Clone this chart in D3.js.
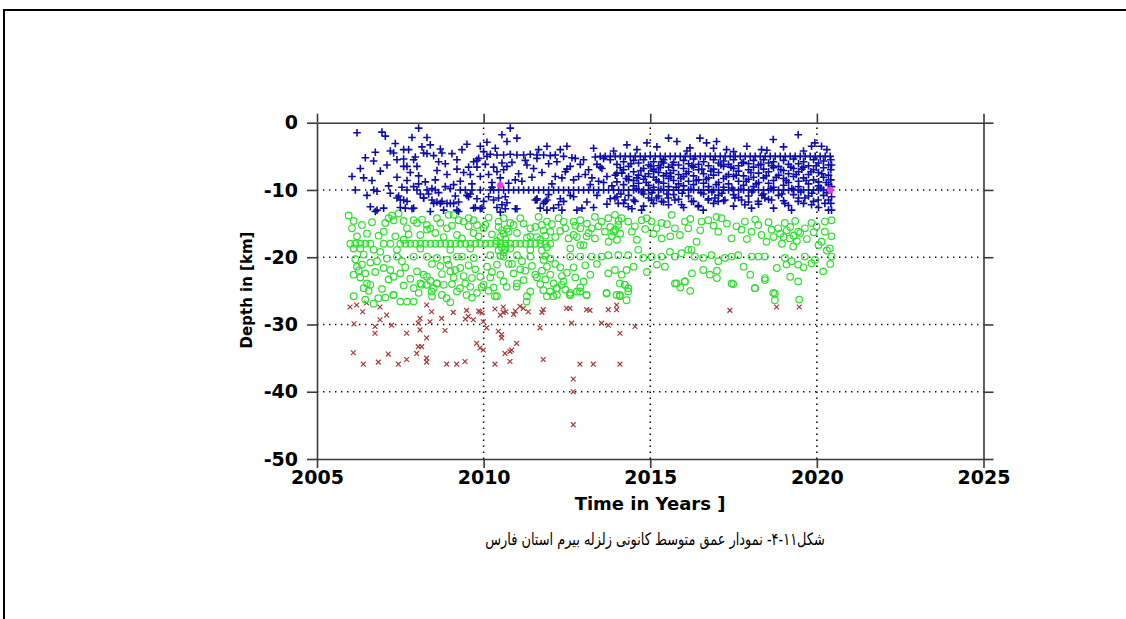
<!DOCTYPE html>
<html><head><meta charset="utf-8">
<script src="https://cdn.jsdelivr.net/npm/d3@7"></script>
<style>html,body{margin:0;padding:0;background:#fff;}svg{display:block;}</style>
</head><body>
<svg id="chart" width="1126" height="619"></svg>
<script>
// ---- data: [year, depth km] ----
const xTicks = [2005, 2010, 2015, 2020, 2025];
const yTicks = [-50, -40, -30, -20, -10, 0];
const xTitle = "Time in Years ]";
const yTitle = "Depth in [km]";
const caption = "شکل۱۱-۴- نمودار عمق متوسط کانونی زلزله بیرم استان فارس";

const blueEarly = [[2006.2,-1.5],[2006.95,-1.4],[2007.05,-2.0],[2008.05,-0.8],[2007.85,-2.2],[2008.3,-2.2],[2008.4,-3.3],[2006.75,-4.4],[2007.2,-4.2],[2007.3,-4.5],[2007.6,-4.0],[2007.75,-4.0],[2008.2,-4.5],[2008.3,-4.6],[2008.5,-4.9],[2008.75,-4.5],[2007.95,-5.1],[2006.7,-5.7],[2007.4,-5.5],[2007.6,-5.4],[2007.9,-5.5],[2008.65,-5.8],[2008.85,-6.1],[2009.2,-5.5],[2009.7,-5.8],[2009.8,-5.6],[2009.9,-3.5],[2010.0,-4.3],[2010.2,-4.7],[2010.1,-5.0],[2007.6,-6.5],[2007.7,-6.5],[2008.0,-6.5],[2009.2,-6.9],[2009.55,-6.6],[2009.8,-6.6],[2006.05,-8.0],[2006.4,-8.2],[2006.65,-8.6],[2007.4,-8.1],[2007.7,-8.6],[2008.05,-7.9],[2008.55,-8.5],[2008.05,-9.1],[2009.3,-8.7],[2009.6,-7.7],[2009.9,-8.0],[2010.15,-7.7],[2006.15,-10.0],[2006.7,-10.0],[2006.8,-10.2],[2007.7,-10.0],[2008.0,-10.0],[2008.3,-10.0],[2008.45,-9.8],[2008.55,-10.0],[2008.85,-9.5],[2009.0,-9.8],[2009.3,-10.0],[2009.45,-10.0],[2009.65,-10.0],[2009.9,-10.0],[2010.2,-10.0],[2007.45,-10.9],[2007.6,-11.5],[2007.7,-11.7],[2008.1,-10.6],[2008.2,-11.2],[2008.45,-11.5],[2008.6,-11.8],[2008.75,-11.7],[2009.0,-12.0],[2009.25,-11.8],[2006.6,-12.5],[2006.75,-13.2],[2007.0,-12.7],[2007.5,-12.6],[2007.9,-12.7],[2008.4,-13.2],[2008.8,-13.0],[2009.25,-13.2],[2009.75,-12.6],[2009.9,-12.8],[2010.4,-12.6],[2010.65,-12.8],[2011.0,-12.8],[2010.5,-13.3],[2010.7,-11.9],[2010.0,-11.7],[2010.3,-11.5],[2011.6,-11.5],[2011.8,-12.0],[2009.5,-10.8],[2009.6,-10.6],[2008.35,-10.6],[2006.8,-13.0],[2007.65,-12.7],[2007.85,-12.8],[2008.5,-12.0],[2008.7,-12.0],[2008.9,-12.0],[2009.1,-12.0],[2009.2,-13.0],[2009.55,-11.0],[2009.7,-12.7],[2009.95,-12.7],[2010.55,-12.2],[2010.95,-12.8],[2010.45,-11.2],[2010.65,-11.0],[2007.4,-11.2],[2007.5,-11.5],[2008.2,-11.2],
[2006.3,-6.8],[2006.45,-5.2],[2006.9,-7.2],[2007.1,-6.3],[2007.15,-9.4],[2007.35,-3.1],[2007.55,-9.6],[2007.8,-7.4],[2008.15,-3.6],[2008.25,-8.8],[2008.6,-7.1],[2008.7,-3.9],[2008.9,-7.7],[2009.05,-4.6],[2009.1,-9.2],[2009.35,-4.0],[2009.4,-7.4],[2009.5,-3.2],[2009.65,-9.1],[2009.85,-5.3],[2010.05,-6.2],[2010.1,-2.9],[2010.25,-8.9],[2010.3,-6.6],[2010.35,-3.8],[2006.5,-10.8],[2007.2,-10.5],[2007.9,-9.5],[2008.65,-10.4],[2009.15,-10.9],[2009.8,-11.3],[2010.15,-11.0],[2010.25,-9.6]];

const blueMid = [[2010.8,-0.8],[2010.55,-1.8],[2010.7,-2.8],[2011.0,-2.3],[2014.9,-3.0],[2015.55,-2.3],[2015.8,-2.8],[2011.65,-4.0],[2011.9,-3.5],[2012.3,-4.0],[2012.5,-3.5],[2010.4,-4.8],[2010.6,-4.8],[2010.8,-4.7],[2011.0,-4.8],[2011.2,-4.8],[2011.4,-4.7],[2011.6,-4.8],[2011.8,-4.8],[2012.4,-5.0],[2012.65,-5.2],[2012.75,-5.3],[2013.0,-5.5],[2013.35,-5.1],[2013.6,-5.3],[2013.8,-5.5],[2011.6,-5.3],[2011.3,-6.3],[2010.55,-6.0],[2010.7,-6.5],[2012.6,-6.5],[2012.5,-6.9],[2012.15,-8.0],[2012.35,-8.2],[2012.7,-8.5],[2013.25,-8.2],[2013.7,-8.0],[2013.95,-7.8],[2014.15,-7.5],[2014.35,-8.5],[2014.6,-8.2],[2014.85,-8.0],[2015.1,-7.2],[2015.3,-6.7],[2015.6,-7.5],[2010.95,-8.5],[2011.15,-8.7],[2011.6,-11.3],[2011.9,-11.5],[2012.3,-11.3],[2012.7,-11.0],[2013.4,-10.8],[2013.8,-11.3],[2011.55,-11.5],[2011.7,-12.7],[2011.85,-11.7],[2011.9,-13.0],[2012.1,-12.7],[2012.25,-12.2],[2012.35,-13.0],[2012.4,-11.7],[2012.8,-13.0],[2012.95,-12.7],[2013.3,-3.8],[2013.9,-4.2],[2014.3,-3.3],[2014.6,-4.0],[2015.2,-3.6],[2012.9,-6.2],[2013.15,-7.0],[2013.5,-6.6],
[2010.4,-7.3],[2010.5,-8.2],[2010.6,-7.0],[2010.75,-9.0],[2010.85,-5.9],[2011.05,-7.6],[2011.25,-5.6],[2011.45,-8.1],[2011.5,-6.8],[2011.75,-7.4],[2011.95,-6.1],[2012.05,-9.1],[2012.2,-5.8],[2012.45,-7.3],[2012.85,-8.0],[2013.05,-7.7],[2013.2,-9.2],[2013.4,-6.2],[2013.45,-8.7],[2012.0,-4.9],[2012.15,-4.8],[2011.95,-10.7],[2012.6,-10.8],[2013.1,-11.8],[2013.3,-12.6]];

const blueLate = [[2016.49,-2.3],[2016.69,-3.0],[2016.99,-2.8],[2018.69,-2.5],[2019.44,-1.8],[2019.94,-3.0],[2020.14,-3.5],[2016.19,-3.75],[2017.29,-4.0],[2018.34,-4.0],[2019.84,-3.5],[2016.1,-4.2],[2016.9,-3.8],[2017.5,-4.3],[2017.9,-3.5],[2018.5,-4.1],[2019.0,-3.6],[2019.6,-4.2],[2020.3,-4.0],
[2014.0,-6.2],[2014.0,-7.5],[2014.0,-8.8],[2014.0,-11.0],[2014.2,-5.8],[2014.2,-7.0],[2014.2,-9.2],[2014.2,-12.0],[2014.35,-6.5],[2014.35,-8.0],[2014.35,-10.8],[2014.5,-5.6],[2014.5,-7.3],[2014.5,-8.6],[2014.5,-9.4],[2014.5,-11.5],[2014.65,-6.0],[2014.65,-7.8],[2014.65,-9.0],[2014.8,-5.5],[2014.8,-6.8],[2014.8,-8.4],[2014.8,-10.6],[2014.8,-12.4],[2014.95,-6.3],[2014.95,-7.6],[2014.95,-9.3],[2014.95,-11.2],[2015.1,-5.8],[2015.1,-6.9],[2015.1,-8.1],[2015.1,-9.6],[2015.1,-12.0],[2015.25,-6.4],[2015.25,-7.4],[2015.25,-8.8],[2015.25,-10.9],[2015.4,-5.5],[2015.4,-6.0],[2015.4,-7.9],[2015.4,-9.0],[2015.4,-11.8],[2015.55,-6.6],[2015.55,-8.3],[2015.55,-9.5],[2015.55,-12.2],[2015.7,-5.9],[2015.7,-7.1],[2015.7,-8.6],[2015.7,-10.7],[2015.85,-6.3],[2015.85,-7.7],[2015.85,-9.1],[2015.85,-11.4],[2016.0,-5.6],[2016.0,-6.8],[2016.0,-8.0],[2016.0,-9.4],[2016.0,-12.6],[2016.15,-6.1],[2016.15,-7.3],[2016.15,-8.7],[2016.15,-10.9],[2016.3,-5.4],[2016.3,-6.6],[2016.3,-7.9],[2016.3,-9.2],[2016.3,-11.7],[2016.45,-6.2],[2016.45,-7.0],[2016.45,-8.5],[2016.45,-12.3],[2016.6,-5.8],[2016.6,-7.6],[2016.6,-9.0],[2016.6,-10.6],[2016.75,-6.4],[2016.75,-8.2],[2016.75,-9.5],[2016.75,-11.3],[2016.9,-5.5],[2016.9,-6.9],[2016.9,-7.8],[2016.9,-12.0],[2017.05,-6.0],[2017.05,-7.4],[2017.05,-8.9],[2017.05,-10.8],[2017.2,-5.7],[2017.2,-6.5],[2017.2,-8.3],[2017.2,-9.6],[2017.2,-11.6],[2017.35,-6.2],[2017.35,-7.7],[2017.35,-9.1],[2017.5,-5.5],[2017.5,-6.8],[2017.5,-8.0],[2017.5,-10.7],[2017.5,-12.4],[2017.65,-6.4],[2017.65,-7.2],[2017.65,-8.7],[2017.65,-11.1],[2017.8,-5.9],[2017.8,-7.9],[2017.8,-9.3],[2017.95,-6.1],[2017.95,-7.0],[2017.95,-8.4],[2017.95,-10.9],[2017.95,-11.8],[2018.1,-5.6],[2018.1,-6.6],[2018.1,-8.1],[2018.1,-9.5],[2018.25,-6.3],[2018.25,-7.5],[2018.25,-8.9],[2018.25,-12.1],[2018.4,-5.5],[2018.4,-6.9],[2018.4,-8.2],[2018.4,-10.6],[2018.55,-6.0],[2018.55,-7.3],[2018.55,-9.0],[2018.55,-11.4],[2018.7,-5.8],[2018.7,-6.7],[2018.7,-8.6],[2018.7,-9.6],[2018.7,-12.7],[2018.85,-6.5],[2018.85,-7.8],[2018.85,-10.8],[2019.0,-5.6],[2019.0,-7.1],[2019.0,-8.3],[2019.0,-9.3],[2019.0,-11.6],[2019.15,-6.2],[2019.15,-7.6],[2019.15,-8.9],[2019.15,-12.3],[2019.3,-5.4],[2019.3,-6.8],[2019.3,-8.0],[2019.3,-10.7],[2019.45,-6.1],[2019.45,-7.3],[2019.45,-8.7],[2019.45,-9.5],[2019.45,-11.2],[2019.6,-5.8],[2019.6,-6.6],[2019.6,-8.2],[2019.6,-12.0],[2019.75,-6.4],[2019.75,-7.7],[2019.75,-9.1],[2019.75,-10.9],[2019.9,-5.5],[2019.9,-7.0],[2019.9,-8.5],[2019.9,-11.7],[2020.05,-6.0],[2020.05,-7.4],[2020.05,-8.8],[2020.05,-9.4],[2020.05,-12.6],[2020.2,-5.7],[2020.2,-6.7],[2020.2,-8.1],[2020.2,-10.8],[2020.35,-6.3],[2020.35,-7.8],[2020.35,-9.2],[2020.35,-11.5],[2020.35,-13.0],[2020.42,-5.5],[2020.42,-7.0],[2020.42,-8.5],[2020.42,-12.0],
[2013.94,-11.2],[2014.04,-12.0],[2014.24,-11.5],[2014.34,-12.5],[2014.54,-11.7],[2014.74,-13.0],[2015.04,-11.5],[2015.19,-11.2],[2015.34,-11.7],[2015.54,-11.2],[2015.74,-11.5],[2015.94,-12.2],[2016.24,-11.7],[2016.44,-12.5],[2016.59,-13.0],[2016.74,-11.5],[2016.94,-11.2],[2017.04,-11.7],[2017.24,-11.5],[2017.54,-11.2],[2017.74,-11.5],[2017.84,-12.2],[2018.04,-12.7],[2018.24,-11.7],[2018.44,-11.2],[2018.64,-11.5],[2019.04,-12.0],[2019.24,-13.0],[2019.44,-11.7],[2019.64,-11.2],[2019.84,-12.2],[2020.04,-11.5],[2020.24,-12.0],[2020.44,-13.0],
[2013.55,-6.8],[2013.6,-8.9],[2013.7,-12.1],[2013.85,-9.4],[2014.1,-6.7],[2014.12,-10.6],[2014.28,-8.3],[2014.42,-6.1],[2014.45,-12.8],[2014.58,-9.8],[2014.72,-7.1],[2014.75,-10.3],[2014.88,-8.9],[2015.02,-6.5],[2015.05,-10.4],[2015.18,-8.5],[2015.32,-9.9],[2015.35,-5.8],[2015.48,-7.6],[2015.5,-10.6],[2015.62,-8.0],[2015.66,-6.3],[2015.78,-9.6],[2015.92,-8.3],[2015.96,-10.5],[2016.08,-7.6],[2016.22,-9.9],[2016.25,-6.4],[2016.38,-8.6],[2016.52,-10.4],[2016.55,-6.9],[2016.68,-8.4],[2016.82,-7.2],[2016.85,-10.3],[2016.98,-9.2],[2017.12,-6.3],[2017.15,-10.5],[2017.28,-8.0],[2017.42,-6.6],[2017.45,-9.7],[2017.58,-7.8],[2017.72,-9.9],[2017.75,-6.0],[2017.88,-8.7],[2018.02,-7.4],[2018.05,-10.3],[2018.18,-9.1],[2018.32,-6.2],[2018.35,-10.8],[2018.48,-7.9],[2018.62,-9.8],[2018.65,-6.4],[2018.78,-8.1],[2018.92,-7.0],[2018.95,-10.6],[2019.08,-8.6],[2019.22,-6.6],[2019.25,-9.8],[2019.38,-7.7],[2019.52,-10.3],[2019.55,-6.9],[2019.68,-8.6],[2019.82,-7.3],[2019.85,-10.5],[2019.98,-6.4],[2020.12,-9.7],[2020.15,-7.6],[2020.28,-8.9],[2020.3,-10.4],[2020.44,-6.3],[2020.44,-9.5],[2020.44,-11.0]];

const blueRow5 = [[2013.5,-5],[2013.65,-5],[2013.8,-5],[2013.95,-5],[2014.1,-5],[2014.25,-5],[2014.4,-5],[2014.55,-5],[2014.7,-5],[2014.85,-5],[2015.0,-5],[2015.15,-5],[2015.3,-5],[2015.45,-5],[2015.6,-5],[2015.75,-5],[2015.9,-5],[2016.05,-5],[2016.2,-5],[2016.35,-5],[2016.5,-5],[2016.65,-5],[2016.8,-5],[2016.95,-5],[2017.1,-5],[2017.25,-5],[2017.4,-5],[2017.55,-5],[2017.7,-5],[2017.85,-5],[2018.0,-5],[2018.15,-5],[2018.3,-5],[2018.45,-5],[2018.6,-5],[2018.75,-5],[2018.9,-5],[2019.05,-5],[2019.2,-5],[2019.35,-5],[2019.5,-5],[2019.65,-5],[2019.8,-5],[2019.95,-5],[2020.1,-5],[2020.25,-5],[2020.4,-5]];

const blueRow10 = [[2010.3,-10],[2010.45,-10],[2010.6,-10],[2010.75,-10],[2010.9,-10],[2011.05,-10],[2011.2,-10],[2011.35,-10],[2011.5,-10],[2011.65,-10],[2011.8,-10],[2011.95,-10],[2012.1,-10],[2012.25,-10],[2012.4,-10],[2012.55,-10],[2012.7,-10],[2012.85,-10],[2013.0,-10],[2013.15,-10],[2013.3,-10],[2013.45,-10],[2013.6,-10],[2013.75,-10],[2013.9,-10],[2014.05,-10],[2014.2,-10],[2014.35,-10],[2014.5,-10],[2014.65,-10],[2014.8,-10],[2014.95,-10],[2015.1,-10],[2015.25,-10],[2015.4,-10],[2015.55,-10],[2015.7,-10],[2015.85,-10],[2016.0,-10],[2016.15,-10],[2016.3,-10],[2016.45,-10],[2016.6,-10],[2016.75,-10],[2016.9,-10],[2017.05,-10],[2017.2,-10],[2017.35,-10],[2017.5,-10],[2017.65,-10],[2017.8,-10],[2017.95,-10],[2018.1,-10],[2018.25,-10],[2018.4,-10],[2018.55,-10],[2018.7,-10],[2018.85,-10],[2019.0,-10],[2019.15,-10],[2019.3,-10],[2019.45,-10],[2019.6,-10],[2019.75,-10],[2019.9,-10],[2020.05,-10],[2020.2,-10],[2020.35,-10]];

const greenEarly = [[2005.95,-13.8],[2007.15,-14.2],[2007.25,-13.8],[2007.45,-13.5],[2007.3,-14.5],[2006.05,-15.7],[2007.7,-15.7],[2007.9,-14.5],[2008.0,-14.9],[2008.3,-15.2],[2008.4,-15.7],[2008.7,-14.9],[2008.95,-13.7],[2009.1,-13.7],[2009.4,-14.7],[2009.55,-14.2],[2009.7,-14.5],[2009.8,-15.2],[2010.05,-15.2],[2010.45,-14.7],[2010.6,-14.2],[2010.8,-14.9],[2011.1,-14.2],[2011.4,-15.7],[2011.65,-14.0],[2011.9,-14.7],[2012.25,-14.2],[2012.4,-14.7],[2012.7,-14.7],[2010.45,-15.5],[2010.55,-16.0],[2010.6,-16.5],[2010.5,-17.0],[2010.65,-17.3],[2010.4,-17.6],[2010.55,-18.5],[2010.7,-15.8],[2010.45,-19.0],[2010.6,-19.3],[2010.5,-19.8],[2010.65,-18.8],[2011.75,-15.2],[2011.8,-16.0],[2011.85,-16.8],[2011.7,-17.4],[2011.9,-18.5],[2011.75,-19.0],[2011.85,-19.8],[2012.0,-20.2],[2006.1,-18.7],[2006.2,-16.9],[2007.35,-16.9],[2007.6,-17.4],[2007.0,-16.2],[2008.1,-16.7],[2008.3,-15.9],[2008.9,-15.7],[2009.2,-16.7],[2009.55,-15.4],[2009.7,-16.4],[2010.0,-15.7],[2011.0,-16.4],[2011.4,-16.9],[2012.0,-16.2],[2012.45,-15.7],[2012.7,-16.7],[2012.9,-15.7],[2006.3,-18.7],[2006.7,-18.9],[2007.4,-18.9],[2008.1,-18.7],[2009.0,-18.9],[2009.6,-18.7],[2010.8,-18.7],[2011.4,-18.9],[2012.6,-18.7],[2012.9,-18.2],
[2006.1,-14.6],[2006.35,-15.2],[2006.5,-16.5],[2006.65,-14.8],[2006.85,-16.8],[2006.9,-19.2],[2007.05,-14.9],[2007.6,-14.6],[2007.75,-16.6],[2008.15,-14.4],[2008.55,-16.4],[2008.6,-14.2],[2008.8,-17.0],[2009.05,-15.3],[2009.25,-14.5],[2009.35,-17.2],[2009.85,-16.9],[2010.15,-14.1],[2010.25,-16.6],[2010.75,-16.2],[2010.9,-15.2],[2011.2,-15.0],[2011.3,-17.1],[2011.55,-15.5],[2011.6,-17.0],[2012.05,-15.1],[2012.15,-17.0],[2012.3,-16.1],[2012.55,-17.2],[2012.75,-15.3],[2013.15,-16.4],[2013.45,-15.4]];

const greenRow18 = [[2006.0,-18],[2006.15,-18],[2006.3,-18],[2006.45,-18],[2006.6,-18],[2007.0,-18],[2007.2,-18],[2007.5,-18],[2007.65,-18],[2007.8,-18],[2007.95,-18],[2008.1,-18],[2008.25,-18],[2008.4,-18],[2008.55,-18],[2008.7,-18],[2008.85,-18],[2009.0,-18],[2009.15,-18],[2009.3,-18],[2009.45,-18],[2009.6,-18],[2009.75,-18],[2009.9,-18],[2010.05,-18],[2010.2,-18],[2010.35,-18],[2010.5,-18],[2010.65,-18],[2010.8,-18],[2010.95,-18],[2011.1,-18],[2011.25,-18],[2011.4,-18],[2011.55,-18],[2011.7,-18],[2011.85,-18],[2012.0,-18]];

const greenLow = [[2007.4,-19.9],[2007.55,-20.6],[2007.9,-19.9],[2008.3,-19.9],[2008.6,-20.1],[2008.9,-20.4],[2009.2,-19.9],[2009.35,-19.9],[2009.7,-20.1],[2010.2,-19.7],[2010.6,-19.9],[2011.0,-19.7],[2011.4,-19.9],[2011.8,-20.4],[2012.6,-19.9],[2012.9,-19.9],[2006.2,-21.4],[2006.35,-21.1],[2006.1,-22.6],[2006.45,-22.4],[2006.5,-23.9],[2006.6,-24.1],[2007.0,-21.6],[2007.3,-22.9],[2008.0,-22.1],[2008.2,-22.6],[2008.1,-23.9],[2008.3,-22.9],[2008.6,-23.9],[2008.8,-24.1],[2009.0,-22.1],[2009.2,-25.1],[2009.45,-23.9],[2009.6,-24.4],[2009.9,-22.9],[2010.0,-24.1],[2010.4,-21.1],[2010.5,-22.6],[2010.6,-23.6],[2010.9,-22.4],[2011.0,-23.9],[2011.2,-23.4],[2011.4,-25.1],[2011.9,-21.4],[2012.0,-22.6],[2012.1,-23.9],[2012.2,-24.6],[2012.4,-23.6],[2012.6,-25.3],[2012.8,-25.1],[2013.0,-23.6],[2006.1,-25.8],[2006.45,-26.3],[2007.3,-25.6],[2007.5,-26.6],[2007.7,-26.6],[2007.9,-26.6],[2008.45,-25.8],[2010.4,-25.8],[2011.3,-25.8],[2011.9,-25.8],[2012.2,-25.6],[2012.6,-25.6],[2006.25,-22.0],[2006.3,-23.0],[2006.4,-24.6],[2006.55,-25.0],[2006.75,-22.2],[2007.65,-21.5],[2007.8,-23.2],[2008.45,-21.0],[2008.75,-22.5],[2009.1,-23.0],[2009.3,-21.6],[2009.75,-21.8],[2010.2,-23.0],[2010.3,-24.5],[2010.75,-21.0],[2011.1,-21.8],[2011.55,-22.6],[2011.7,-24.0],[2012.3,-21.5],[2012.5,-22.3],[2012.9,-24.5],[2006.84,-26.1],[2007.29,-25.6],[2008.14,-24.1],[2008.29,-24.1],[2008.44,-25.1],[2008.59,-23.9],[2008.89,-26.1],[2009.29,-24.6],[2009.49,-25.6],[2009.94,-24.4],[2010.34,-25.8],[2010.69,-24.4],[2010.99,-24.4],[2011.29,-26.6],[2011.79,-24.9],[2011.99,-25.1],[2012.09,-25.8],[2012.19,-24.6],[2012.34,-24.1],[2012.59,-25.6],[2012.89,-25.1],[2013.09,-25.6],
[2006.15,-20.3],[2006.4,-19.6],[2006.6,-20.8],[2006.8,-20.6],[2007.1,-20.2],[2007.2,-21.9],[2007.5,-22.4],[2007.6,-24.2],[2007.9,-24.6],[2008.05,-25.3],[2008.4,-23.5],[2008.5,-24.6],[2008.7,-21.3],[2008.95,-21.1],[2009.05,-24.0],[2009.15,-21.9],[2009.4,-22.8],[2009.55,-21.2],[2009.65,-23.1],[2009.8,-25.3],[2010.1,-21.4],[2010.15,-25.0],[2010.25,-22.2],[2006.7,-26.9],[2006.95,-24.7],[2007.05,-26.0],[2007.15,-23.3],[2008.75,-25.6],[2009.0,-26.7],[2009.65,-26.0],[2010.85,-21.0],[2011.15,-20.6],[2011.25,-22.0],[2011.45,-21.3],[2011.6,-23.0],[2011.75,-22.0],[2011.85,-23.3],[2012.15,-21.0],[2012.35,-22.8],[2012.45,-24.8],[2012.7,-21.5],[2012.75,-23.0],[2013.05,-21.2],[2013.2,-22.6],[2013.4,-21.0]];

const greenLate = [[2013.69,-25.4],[2013.99,-25.6],[2014.09,-25.8],[2014.29,-26.4],[2014.24,-24.1],[2014.34,-24.6],[2015.79,-23.9],[2016.04,-23.6],[2017.49,-24.0],[2018.14,-24.6],[2018.44,-23.4],[2018.74,-25.4],[2018.74,-26.4],[2019.47,-26.3],[2014.09,-23.9],
[2013.34,-14.0],[2013.54,-14.7],[2013.24,-15.7],[2013.09,-16.9],[2013.34,-17.2],[2013.64,-16.2],[2013.74,-14.2],[2013.94,-13.7],[2014.04,-15.2],[2014.14,-14.2],[2014.34,-14.7],[2014.54,-15.4],[2014.74,-14.5],[2014.89,-14.2],[2015.04,-14.7],[2015.19,-15.7],[2015.34,-14.9],[2015.34,-17.2],[2015.64,-13.7],[2015.74,-15.7],[2015.89,-16.7],[2016.04,-14.7],[2016.14,-15.7],[2016.39,-17.7],[2016.24,-18.9],[2016.54,-14.7],[2016.74,-14.5],[2016.99,-14.0],[2017.04,-16.2],[2017.14,-14.2],[2017.44,-17.2],[2017.59,-15.4],[2017.74,-15.9],[2017.84,-14.7],[2018.04,-16.2],[2018.24,-15.2],[2018.34,-16.7],[2018.49,-17.7],[2018.64,-15.9],[2018.84,-15.7],[2019.04,-14.9],[2019.19,-17.2],[2019.29,-18.4],[2019.44,-16.2],[2019.64,-15.7],[2019.84,-14.9],[2019.99,-15.4],[2020.24,-16.2],[2020.44,-14.5],[2020.39,-18.7],[2020.44,-16.9],[2020.24,-14.7],[2020.14,-17.7],[2013.8,-15.5],[2013.9,-16.2],[2013.85,-16.9],[2014.0,-17.4],[2013.95,-15.9],[2014.1,-16.5],[2013.75,-17.7],[2014.05,-14.6],[2018.9,-16.5],[2019.0,-17.0],[2019.1,-16.0],[2019.3,-16.8],[2019.4,-17.6],[2019.5,-16.4],[2019.2,-15.5],[2018.95,-18.0],
[2013.24,-19.9],[2013.54,-19.9],[2013.74,-19.7],[2014.04,-19.7],[2014.34,-19.7],[2014.64,-18.9],[2014.79,-20.1],[2015.04,-19.9],[2015.34,-19.9],[2015.59,-19.2],[2015.74,-19.9],[2015.94,-19.4],[2016.14,-18.9],[2016.34,-19.9],[2016.59,-20.1],[2016.84,-19.7],[2017.04,-20.6],[2017.24,-20.1],[2017.44,-19.9],[2017.64,-19.7],[2018.04,-19.9],[2018.24,-19.9],[2018.44,-19.9],[2019.04,-20.1],[2019.24,-20.6],[2019.44,-21.1],[2019.64,-19.9],[2019.94,-20.4],[2020.44,-19.9],
[2013.74,-22.4],[2013.94,-21.9],[2014.14,-22.6],[2014.29,-21.9],[2014.24,-24.1],[2014.34,-25.1],[2015.44,-21.4],[2015.74,-23.9],[2016.04,-23.6],[2016.59,-21.9],[2016.79,-22.6],[2017.44,-23.9],[2018.14,-24.6],[2018.44,-23.1],[2018.69,-25.3],[2019.09,-21.1],[2019.44,-23.6],[2019.84,-20.9],[2020.19,-22.1],[2013.09,-25.6],[2013.69,-25.3],[2014.09,-25.6],[2012.9,-14.5],[2013.1,-15.0],[2012.8,-17.0],[2013.0,-18.2],
[2014.45,-16.2],[2014.6,-17.4],[2014.85,-15.8],[2015.1,-16.5],[2015.5,-15.1],[2015.6,-16.9],[2016.2,-14.3],[2016.5,-16.0],[2016.9,-15.3],[2017.3,-15.0],[2017.9,-17.3],[2018.15,-14.4],[2018.55,-14.8],[2018.7,-17.0],[2019.35,-14.6],[2019.7,-17.3],[2019.9,-16.3],[2020.05,-18.2],[2020.3,-19.0],[2014.5,-21.4],[2014.9,-22.2],[2015.2,-21.1],[2016.25,-22.4],[2017.0,-22.0],[2017.8,-21.4],[2018.0,-22.6],[2018.8,-21.6],[2019.2,-22.9],[2019.6,-21.5],[2020.4,-21.0],[2017.0,-23.1],[2016.2,-25.0],[2015.9,-24.5]];

const redEvents = [[2005.99,-27.4],[2006.19,-27.1],[2006.37,-28.1],[2006.49,-26.8],[2006.89,-27.4],[2007.09,-28.6],[2006.89,-29.3],[2006.74,-30.3],[2006.74,-31.3],[2007.24,-30.1],[2007.69,-31.3],[2008.04,-29.8],[2008.09,-29.1],[2008.09,-30.8],[2008.29,-27.1],[2008.44,-28.1],[2008.39,-29.6],[2008.29,-32.0],[2008.04,-33.3],[2008.14,-33.3],[2008.29,-35.0],[2008.29,-35.6],[2008.74,-29.1],[2008.84,-30.9],[2009.09,-28.2],[2009.49,-27.9],[2009.54,-28.8],[2009.69,-29.3],[2009.89,-28.1],[2009.99,-29.6],[2009.79,-32.8],[2009.89,-33.5],[2009.99,-33.8],[2010.09,-30.5],[2010.34,-27.7],[2010.59,-27.4],[2010.59,-28.2],[2010.67,-28.1],[2010.44,-31.0],[2010.54,-31.5],[2010.54,-32.0],[2010.64,-34.3],[2010.79,-34.0],[2010.84,-33.8],[2010.99,-32.8],[2011.09,-27.3],[2011.19,-27.6],[2011.34,-28.1],[2011.69,-30.5],[2011.79,-27.8],[2011.79,-35.2],[2012.49,-27.6],[2012.59,-27.6],[2012.64,-29.8],[2012.69,-38.1],[2012.69,-40.0],[2012.69,-44.9],[2012.89,-35.9],[2013.09,-27.8],[2013.19,-27.9],[2013.29,-35.9],[2013.54,-29.8],[2013.74,-27.8],[2013.74,-30.1],[2013.99,-27.8],[2013.99,-27.1],[2014.09,-31.3],[2014.09,-35.9],[2014.54,-30.3],[2006.09,-34.2],[2006.39,-35.9],[2006.84,-35.6],[2007.14,-34.4],[2007.44,-35.9],[2007.69,-35.2],[2007.99,-34.3],[2008.89,-35.9],[2009.19,-35.9],[2009.44,-35.5],[2010.34,-35.9],[2010.79,-35.5],[2006.11,-29.9],[2017.39,-27.9],[2018.79,-27.4],[2019.47,-27.4],[2009.85,-28.0],[2009.95,-28.3],[2010.9,-28.5],[2010.95,-28.0],[2011.75,-28.2],[2010.5,-28.6],[2009.45,-29.2]];

const magentaEvents = [[2010.5,-9.3],[2020.4,-10.0]];

// ---- drawing ----
const svg = d3.select("#chart");
const W = 1126, H = 619;
const x = d3.scaleLinear().domain([2005, 2025]).range([317, 983.5]);
const y = d3.scaleLinear().domain([-50, 0]).range([459, 122.7]);
const [x0, x1] = x.range();
const [yb, yt] = y.range();

// page frame
svg.append("path").attr("d", `M4,${H}V10H${W}`).attr("fill","none").attr("stroke","#000").attr("stroke-width",2);

// grid
const gridX = xTicks.filter(t => t > 2005 && t < 2025);
const gridY = yTicks.filter(t => t > -50 && t < 0);
const grid = svg.append("g").attr("stroke","#111").attr("stroke-width",1.6).attr("stroke-dasharray","1.4,4.6");
grid.selectAll("line.gx").data(gridX).join("line").attr("x1", d=>x(d)).attr("x2", d=>x(d)).attr("y1", yb).attr("y2", yt);
grid.selectAll("line.gy").data(gridY).join("line").attr("y1", d=>y(d)).attr("y2", d=>y(d)).attr("x1", x0).attr("x2", x1);

// markers
const g = svg.append("g");
const plus = "M-3.8,0H3.8M0,-3.8V3.8";
const cross = "M-2.4,-2.4L2.4,2.4M-2.4,2.4L2.4,-2.4";
const blueAll = [].concat(blueEarly, blueMid, blueLate, blueRow5, blueRow10);
const greenAll = [].concat(greenEarly, greenRow18, greenLow, greenLate);

g.selectAll("path.red").data(redEvents).join("path").attr("class","red")
  .attr("d", cross).attr("transform", d=>`translate(${x(d[0])},${y(d[1])})`)
  .attr("fill","none").attr("stroke","#a83a3a").attr("stroke-width",1.2);
g.selectAll("circle.green").data(greenAll).join("circle").attr("class","green")
  .attr("cx", d=>x(d[0])).attr("cy", d=>y(d[1])).attr("r",3.3)
  .attr("fill","none").attr("stroke","#2fe02f").attr("stroke-width",1.2);
g.selectAll("path.blue").data(blueAll).join("path").attr("class","blue")
  .attr("d", plus).attr("transform", d=>`translate(${x(d[0])},${y(d[1])})`)
  .attr("fill","none").attr("stroke","#0c0caa").attr("stroke-width",1.6);
g.selectAll("path.mag").data(magentaEvents).join("path").attr("class","mag")
  .attr("d", "M-3.5,0H3.5M0,-3.5V3.5M-2.5,-2.5L2.5,2.5M-2.5,2.5L2.5,-2.5")
  .attr("transform", d=>`translate(${x(d[0])},${y(d[1])})`)
  .attr("fill","none").attr("stroke","#e040e0").attr("stroke-width",2);

// axes
const fmt = d => String(d);
const axB = d3.axisBottom(x).tickValues(xTicks).tickFormat(fmt).tickSizeInner(9).tickSizeOuter(0).tickPadding(3);
const axT = d3.axisTop(x).tickValues(xTicks).tickFormat("").tickSizeInner(9).tickSizeOuter(0);
const axL = d3.axisLeft(y).tickValues(yTicks).tickFormat(fmt).tickSizeInner(10).tickSizeOuter(0).tickPadding(9);
const axR = d3.axisRight(y).tickValues(yTicks).tickFormat("").tickSizeInner(10).tickSizeOuter(0);
function style(sel){
  sel.select(".domain").attr("stroke","#3a3a3a").attr("stroke-width",1.6);
  sel.selectAll(".tick line").attr("stroke","#3a3a3a").attr("stroke-width",1.6);
  sel.selectAll(".tick text").attr("fill","#000").attr("font-family","DejaVu Sans, sans-serif")
     .attr("font-weight","bold").attr("font-size","19px");
}
svg.append("g").attr("transform",`translate(0,${yb})`).call(axB).call(style);
svg.append("g").attr("transform",`translate(0,${yt})`).call(axT).call(style);
svg.append("g").attr("transform",`translate(${x0},0)`).call(axL).call(style);
svg.append("g").attr("transform",`translate(${x1},0)`).call(axR).call(style);

// titles
svg.append("text").attr("x", 650).attr("y", 510).attr("text-anchor","middle")
  .attr("font-family","DejaVu Sans, sans-serif").attr("font-weight","bold").attr("font-size","18px")
  .text(xTitle);
svg.append("text").attr("transform","translate(252,290) rotate(-90)").attr("text-anchor","middle")
  .attr("font-family","DejaVu Sans, sans-serif").attr("font-size","15px").attr("font-weight","600")
  .text(yTitle);
svg.append("text").attr("transform","translate(655,545) scale(0.76,1)").attr("x",0).attr("y",0)
  .attr("text-anchor","middle").attr("direction","rtl")
  .attr("font-family","DejaVu Sans, sans-serif").attr("font-size","17px")
  .text(caption);
</script>
</body></html>
